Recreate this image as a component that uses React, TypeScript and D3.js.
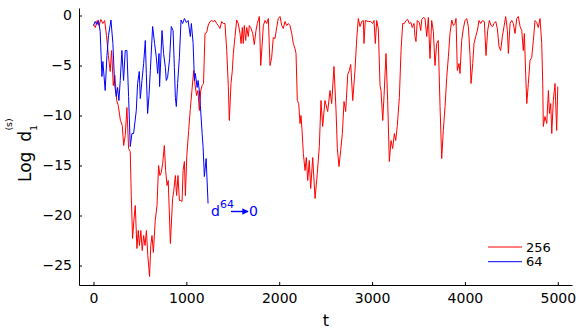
import React, { useEffect, useRef } from "react";
import * as d3 from "d3";

// Series "256" (red): time steps and log-distance values
const tRed: number[] = [
  0, 20, 40, 60, 80, 100, 120, 140, 160, 180, 195, 213, 230, 250, 267, 290, 310, 325, 342, 360,
  378, 396, 407, 421, 435, 450, 468, 482, 495, 510, 525, 540, 555, 570, 585, 604, 617, 630, 645, 665,
  684, 701, 715, 730, 745, 763, 777, 792, 805, 828, 852, 865, 882, 895, 910, 925, 940, 954, 965, 979,
  990, 1005, 1025, 1043, 1060, 1079, 1095, 1110, 1125, 1140, 1155, 1170, 1185,
  1201, 1219, 1236, 1255, 1273, 1290, 1309, 1327, 1344, 1362, 1381, 1398, 1416, 1435, 1452, 1463, 1481, 1495,
  1506, 1524, 1542, 1559, 1578, 1589, 1603, 1613, 1624, 1639, 1650, 1667, 1678, 1693, 1715, 1732, 1750, 1764,
  1786, 1801, 1815, 1829, 1847, 1865, 1883, 1901, 1919, 1936, 1955, 1973, 1990, 2009, 2027, 2044, 2062, 2081,
  2098, 2116, 2135, 2152, 2170, 2181, 2195, 2210, 2224, 2235, 2246, 2260, 2278, 2292, 2307, 2324, 2339, 2361,
  2386, 2410, 2432, 2450, 2468, 2493, 2522, 2547, 2565, 2590, 2612, 2626, 2644, 2662, 2680, 2698, 2716, 2738,
  2755, 2770, 2792, 2816, 2835, 2852, 2870, 2889, 2906, 2913, 2927, 2960, 2985, 3007, 3021, 3035, 3050, 3067,
  3086, 3096, 3115, 3129, 3150, 3168, 3186, 3204, 3222, 3240, 3255, 3272, 3294, 3312, 3330, 3347, 3366, 3384,
  3401, 3419, 3433, 3452, 3462, 3473, 3487, 3509, 3524, 3535, 3552, 3570, 3589, 3606, 3624, 3642, 3660, 3678,
  3696, 3713, 3732, 3750, 3767, 3786, 3804, 3822, 3839, 3858, 3875, 3893, 3904, 3918, 3936, 3947, 3965, 3983,
  4001, 4019, 4037, 4055, 4066, 4084, 4098, 4116, 4134, 4152, 4170, 4188, 4209, 4227, 4245, 4263, 4281, 4299,
  4313, 4332, 4349, 4367, 4385, 4403, 4421, 4439, 4457, 4468, 4486, 4504, 4521, 4540, 4558, 4575, 4594, 4612,
  4629, 4640, 4655, 4666, 4683, 4701, 4719, 4737, 4755, 4773, 4790, 4809, 4827, 4838, 4844, 4862, 4881, 4899,
  4910, 4924, 4935, 4952, 4970, 4988, 5000,
];
const vRed: number[] = [
  -0.9, -1.2, -0.5, -1.0, -0.4, -0.8, -0.5, -2.0, -4.0, -5.6, -3.5, -7.0, -6.0, -8.5, -9.0, -10.5, -11.0, -13.0, -12.0, -9.2,
  -13.3, -13.6, -18.0, -22.3, -20.5, -19.0, -23.3, -21.5, -23.0, -21.5, -23.5, -22.0, -23.0, -21.5, -24.0, -26.1, -23.0, -22.0, -23.7, -20.5,
  -19.0, -15.0, -16.0, -15.7, -14.8, -13.0, -15.5, -17.0, -16.5, -22.8, -18.3, -17.5, -16.0, -18.0, -16.0, -18.5, -18.5, -18.6, -15.5, -14.6,
  -18.0, -14.0, -11.5, -9.3, -7.5, -5.5, -7.0, -8.0, -7.5, -9.5, -7.5, -7.0, -6.8,
  -1.8, -1.7, -0.95, -0.6, -0.5, -0.6, -0.5, -0.8, -1.0, -1.3, -0.6, -0.8, -0.8, -3.5, -7.1, -10.5, -6.8, -5.5,
  -3.8, -2.1, -0.45, -0.8, -1.8, -2.8, -1.2, -2.8, -1.0, -2.5, -1.2, -2.1, -1.0, -1.2, -1.8, -2.9, -1.5, -0.8,
  -0.1, -5.0, -3.1, -1.0, -0.5, -0.8, -0.3, -5.0, -4.2, -2.2, -2.3, -1.2, -0.3, -0.1, -1.0, -1.3, -0.6, -1.0,
  -0.8, -1.0, -1.8, -2.8, -3.3, -3.8, -8.5, -8.8, -10.8, -10.0, -11.5, -13.8, -15.5, -14.2, -16.5, -14.5, -17.3, -14.2,
  -18.3, -15.8, -13.1, -8.5, -11.1, -8.5, -9.6, -7.5, -8.8, -5.1, -9.5, -13.3, -15.1, -13.5, -11.8, -8.6, -9.6, -5.9,
  -5.5, -4.9, -8.5, -5.5, -2.3, -0.3, -1.1, -0.6, -0.5, -2.8, -0.5, -0.6, -0.6, -0.8, -0.5, -2.8, -0.5, -1.3,
  -7.0, -7.5, -10.5, -8.0, -3.8, -8.5, -14.6, -12.5, -13.3, -11.8, -12.5, -11.0, -8.2, -3.5, -0.8, -0.8, -0.5, -0.4,
  -0.8, -0.7, -1.2, -0.8, -2.1, -2.6, -0.5, -0.7, -1.5, -0.4, -0.2, -0.3, -2.1, -0.2, -4.3, -0.5, -1.6, -5.0,
  -2.8, -2.5, -9.1, -14.3, -11.5, -9.1, -6.2, -4.1, -1.8, -0.45, -1.0, -0.8, -0.3, -5.5, -4.8, -5.8, -2.5, -1.3,
  -0.5, -0.3, -1.1, -4.0, -6.8, -4.8, -2.8, -2.1, -1.5, -0.5, -0.8, -0.5, -0.6, -4.0, -1.5, -0.5, -1.0, -1.1,
  -0.8, -0.6, -1.3, -3.1, -3.5, -2.1, -1.1, -0.1, -1.5, -3.8, -0.8, -0.5, -0.8, -1.8, -0.3, -0.1, -1.1, -1.5,
  -3.5, -1.8, -6.1, -8.8, -6.8, -4.5, -4.2, -2.5, -0.5, -0.7, -1.2, -0.3, -2.8, -6.8, -11.1, -10.1, -10.8, -7.5,
  -9.8, -8.8, -11.8, -8.5, -6.8, -11.5, -7.1,
];

// Series "64" (blue)
const tBlue: number[] = [
  0, 18, 37, 54, 72, 91, 101, 126, 145, 162, 188, 209, 227, 245, 259, 274, 288, 306, 324, 342,
  360, 378, 396, 414, 432, 461, 475, 493, 504, 522, 540, 558, 569, 583, 598, 612, 637, 658, 677, 691,
  706, 712, 738, 755, 774, 784, 798, 820, 838, 857, 871, 882, 892, 906, 925, 943, 960, 979, 1000, 1019,
  1043, 1054, 1073, 1087, 1097, 1116, 1126, 1140, 1151, 1170, 1180, 1194, 1213, 1234,
];
const vBlue: number[] = [
  -1.0, -0.6, -0.9, -0.5, -1.6, -6.1, -4.6, -7.5, -4.0, -2.0, -0.45, -2.8, -6.8, -8.1, -7.2, -8.5, -6.5, -3.5, -6.5, -3.5,
  -3.5, -8.1, -13.1, -11.8, -11.8, -9.5, -6.8, -5.6, -8.3, -6.5, -4.8, -2.5, -5.8, -9.8, -8.0, -5.5, -1.1, -2.8, -4.2, -5.8,
  -3.8, -7.1, -1.5, -3.8, -5.2, -6.5, -6.2, -4.3, -1.1, -1.5, -5.2, -8.2, -9.1, -6.8, -4.2, -0.45, -0.8, -0.3, -0.7, -0.5,
  -2.1, -0.8, -2.8, -6.5, -5.8, -7.2, -6.5, -7.5, -9.0, -11.8, -13.1, -16.1, -14.3, -18.8,
];

const xTicks = [0, 1000, 2000, 3000, 4000, 5000];
const yTicks = [0, -5, -10, -15, -20, -25];
const seriesLabels = ["256", "64"];
const seriesColors = ["#ff0000", "#0000ff"];

const W = 581;
const H = 336;
const FONT = "DejaVu Sans, sans-serif";

export default function App() {
  const xAxisRef = useRef<SVGGElement>(null);
  const yAxisRef = useRef<SVGGElement>(null);

  const left = 79, right = 572, top = 8, bottom = 285;
  const x = d3.scaleLinear().domain([-156, 5153]).range([left, right]);
  const y = d3.scaleLinear().domain([-26.95, 0.75]).range([bottom, top]);

  useEffect(() => {
    if (xAxisRef.current) {
      const g = d3.select(xAxisRef.current);
      g.call(
        d3.axisBottom(x).tickValues(xTicks).tickSizeInner(-3).tickSizeOuter(0).tickPadding(8).tickFormat(d3.format("d")) as any
      );
      g.selectAll("text").attr("font-family", FONT).attr("font-size", 14).attr("fill", "#000");
      g.selectAll("line").attr("stroke", "#000");
      g.select(".domain").attr("stroke", "#000");
    }
    if (yAxisRef.current) {
      const g = d3.select(yAxisRef.current);
      g.call(
        d3.axisLeft(y).tickValues(yTicks).tickSizeInner(-3).tickSizeOuter(0).tickPadding(7).tickFormat((d: any) => d3.format("d")(d)) as any
      );
      g.selectAll("text").attr("font-family", FONT).attr("font-size", 14).attr("fill", "#000");
      g.selectAll("line").attr("stroke", "#000");
      g.select(".domain").attr("stroke", "#000");
    }
  }, []);

  const line = d3
    .line<[number, number]>()
    .x((d) => x(d[0]))
    .y((d) => y(d[1]));

  const redPts: [number, number][] = tRed.map((t, i) => [t, vRed[i]]);
  const bluePts: [number, number][] = tBlue.map((t, i) => [t, vBlue[i]]);

  const lastBlue = bluePts[bluePts.length - 1];
  const annX = x(lastBlue[0]) + 3;
  const annY = 216;

  return (
    <svg width={W} height={H} style={{ position: "absolute", left: 0, top: 0, background: "#fff" }}>
      <defs>
        <marker id="arrow" viewBox="0 0 10 10" refX="9" refY="5" markerWidth="4.5" markerHeight="4.5" orient="auto">
          <path d="M0,0 L10,5 L0,10 z" fill="#0000ff" />
        </marker>
      </defs>
      <path d={line(redPts) || ""} fill="none" stroke={seriesColors[0]} strokeWidth={1} />
      <path d={line(bluePts) || ""} fill="none" stroke={seriesColors[1]} strokeWidth={1} />
      <g ref={xAxisRef} transform={`translate(0,${bottom})`} />
      <g ref={yAxisRef} transform={`translate(${left},0)`} />

      {/* annotation */}
      <text x={annX} y={annY} fontFamily={FONT} fontSize={14} fill="#0000ff">
        d
        <tspan dy={-8} fontSize={11}>64</tspan>
      </text>
      <line x1={231} y1={211.5} x2={248} y2={211.5} stroke="#0000ff" strokeWidth={1.4} markerEnd="url(#arrow)" />
      <text x={249} y={annY} fontFamily={FONT} fontSize={14} fill="#0000ff">0</text>

      {/* legend */}
      {seriesLabels.map((lab, i) => (
        <g key={lab} transform={`translate(0,${247 + i * 14.7})`}>
          <line x1={488} x2={522} y1={0} y2={0} stroke={seriesColors[i]} strokeWidth={1} />
          <text x={526} y={4.6} fontFamily={FONT} fontSize={13} fill="#000">{lab}</text>
        </g>
      ))}

      {/* axis labels */}
      <text x={326} y={326} textAnchor="middle" fontFamily={FONT} fontSize={16} fill="#000">t</text>
      <text transform="translate(30.5,182) rotate(-90)" textAnchor="start" fontFamily={FONT} fontSize={17} fill="#000">
        Log
        <tspan dx={10}>d</tspan>
        <tspan dy={6.5} fontSize={9}>1</tspan>
        <tspan dx={-5.5} dy={-25} fontSize={9.5}>(s)</tspan>
      </text>
    </svg>
  );
}
